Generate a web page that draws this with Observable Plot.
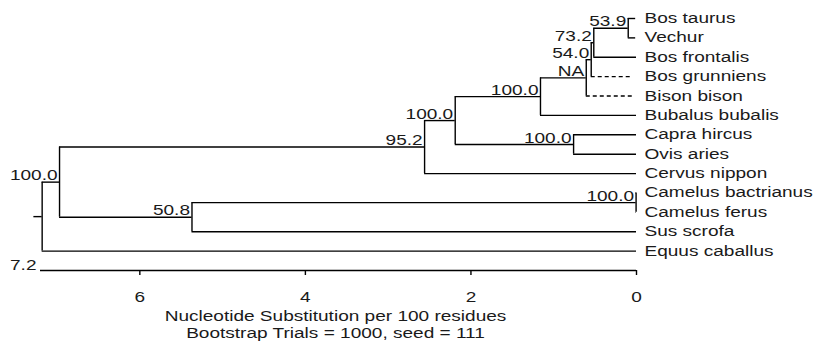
<!DOCTYPE html>
<html><head><meta charset="utf-8">
<script src="https://cdn.jsdelivr.net/npm/d3@7"></script>
<script src="https://cdn.jsdelivr.net/npm/@observablehq/plot@0.6"></script>
<style>body{margin:0;background:#fff}</style>
</head><body><div id="chart"></div>
<script>
// ---- data ----
const leafNames = ["Bos taurus","Vechur","Bos frontalis","Bos grunniens","Bison bison","Bubalus bubalis","Capra hircus","Ovis aries","Cervus nippon","Camelus bactrianus","Camelus ferus","Sus scrofa","Equus caballus"];
const leafDepth = [0.01,0.01,0,0.05,0.05,0,0,0,0,0,0,0,0];
const leafDashed = [false,false,false,true,true,false,false,false,false,false,false,false,false];
const nodeIds = ["n539","n732","n540","nNA","nBovinae","nCaprinae","nBovidae","n952","nCamel","nCamelPig","nA","root"];
const nodeChildren = [["Bos taurus","Vechur"],["n539","Bos frontalis"],["n732","Bos grunniens"],["n540","Bison bison"],["nNA","Bubalus bubalis"],["Capra hircus","Ovis aries"],["nBovinae","nCaprinae"],["nBovidae","Cervus nippon"],["Camelus bactrianus","Camelus ferus"],["nCamel","Sus scrofa"],["n952","nCamelPig"],["nA","Equus caballus"]];
const nodeDepth = [0.10,0.516,0.547,0.607,1.16,0.76,2.19,2.56,0.005,5.37,6.97,7.18];
const nodeSupport = ["53.9","73.2","54.0","NA","100.0","100.0","100.0","95.2","100.0","50.8","100.0",""];
const rootStub = 0.1;
const axisTicks = [6,4,2,0];
const axisMax = 7.2;
const axisMaxLabel = "7.2";
const captionLines = ["Nucleotide Substitution per 100 residues","Bootstrap Trials = 1000, seed = 111"];

// ---- layout (rectangular dendrogram) ----
const pos = new Map();
leafNames.forEach((n,i)=>pos.set(n,{x:leafDepth[i], y:i, dashed:leafDashed[i]}));
nodeIds.forEach((id,i)=>{
  const ys = nodeChildren[i].map(c=>pos.get(c).y);
  pos.set(id,{x:nodeDepth[i], y:d3.mean(ys), dashed:false});
});
const verticals = nodeIds.map((id,i)=>{
  const ys = nodeChildren[i].map(c=>pos.get(c).y);
  return {x:nodeDepth[i], y1:d3.min(ys), y2:d3.max(ys)};
});
const horiz = [];
nodeIds.forEach((id,i)=>{
  nodeChildren[i].forEach(c=>{
    const p = pos.get(c);
    horiz.push({y:p.y, x1:nodeDepth[i], x2:p.x, dashed:p.dashed});
  });
});
const rootPos = pos.get("root");
horiz.push({y:rootPos.y, x1:rootPos.x + rootStub, x2:rootPos.x, dashed:false});
const supportLabels = nodeIds.map((id,i)=>({x:nodeDepth[i], y:pos.get(id).y, text:nodeSupport[i]})).filter(d=>d.text);
const leafLabels = leafNames.map((n,i)=>({y:i, text:n}));
const axisRow = leafNames.length;

const ink = "#000";
const textInk = "#1a1a1a";
const sw = 1.4;
const plot = Plot.plot({
  width: 819, height: 343,
  marginLeft: 40, marginRight: 183, marginTop: 18, marginBottom: 73,
  x: {domain:[axisMax, 0], label:null},
  y: {domain:[0, axisRow], range:[18, 270], axis:null},
  style: {fontFamily:"'Liberation Sans', Arial, sans-serif", fontSize:"14px", color:textInk, background:"#fff"},
  marks: [
    Plot.ruleX(verticals, {x:"x", y1:"y1", y2:"y2", stroke:ink, strokeWidth:sw}),
    Plot.ruleY(horiz.filter(d=>!d.dashed), {y:"y", x1:"x1", x2:"x2", stroke:ink, strokeWidth:sw}),
    Plot.ruleY(horiz.filter(d=>d.dashed), {y:"y", x1:"x1", x2:"x2", stroke:ink, strokeWidth:sw, strokeDasharray:"4,3"}),
    Plot.ruleY([axisRow], {x1:axisMax, x2:0, stroke:ink, strokeWidth:sw}),
    Plot.axisX(axisTicks, {anchor:"bottom", tickSize:5, tickPadding:17, label:null, stroke:ink, strokeWidth:sw, fill:textInk}),
    Plot.text([axisMaxLabel], {x:axisMax, y:axisRow, text:d=>d, textAnchor:"end", lineAnchor:"bottom", dx:-4, dy:-1, fill:textInk}),
    Plot.text(supportLabels, {x:"x", y:"y", text:"text", textAnchor:"end", lineAnchor:"bottom", dx:-2, dy:-2, fill:textInk}),
    Plot.text(leafLabels, {x:0, y:"y", text:"text", textAnchor:"start", lineAnchor:"middle", dx:8, fill:textInk}),
    Plot.text([captionLines.join("\n")], {x:axisMax/2, y:axisRow, text:d=>d, textAnchor:"middle", lineAnchor:"middle", lineHeight:1.21, dx:-3, dy:53.5, fill:textInk})
  ]
});
// horizontally widen glyphs like the reference rendering
plot.querySelectorAll("text").forEach(t=>{
  const tr = t.getAttribute("transform");
  if (tr) t.setAttribute("transform", tr + " scale(1.36,1)");
  else {
    const x = +t.getAttribute("x") || 0, y = +t.getAttribute("y") || 0;
    if (t.hasAttribute("x") || t.hasAttribute("y")) {
      t.removeAttribute("x"); t.removeAttribute("y");
      t.setAttribute("transform", `translate(${x},${y}) scale(1.36,1)`);
    } else t.setAttribute("transform", "scale(1.36,1)");
  }
});
document.getElementById("chart").appendChild(plot);
</script>
</body></html>
